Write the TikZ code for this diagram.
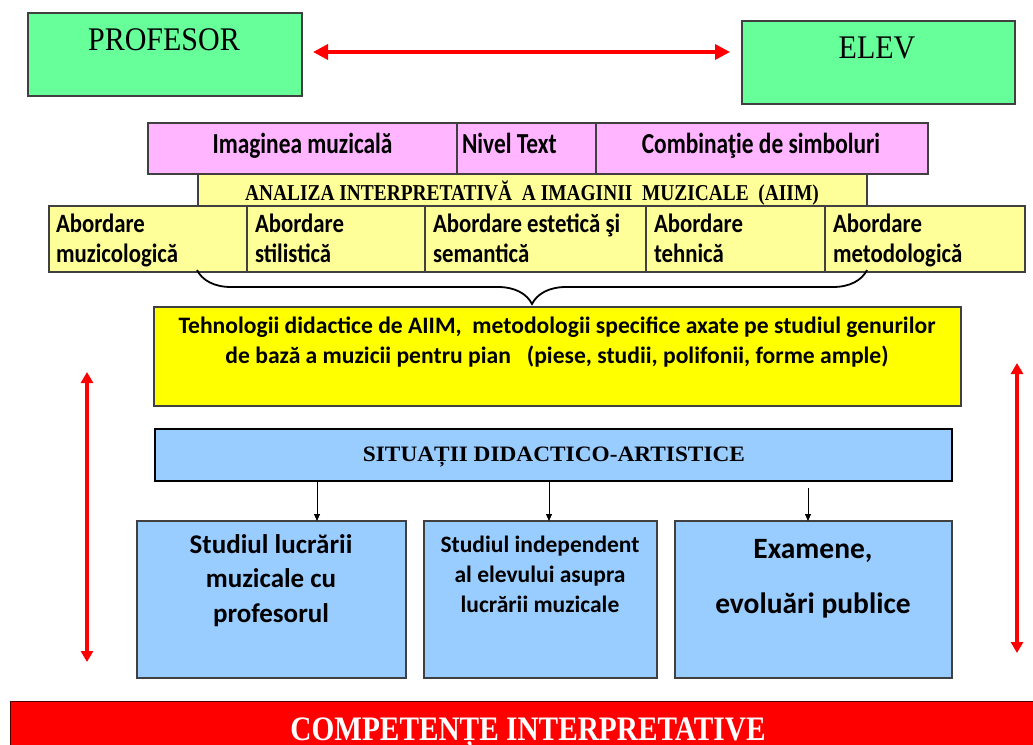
\documentclass[tikz,border=0pt]{standalone}
\usepackage{fontspec}
\usepackage{graphicx}
\setmainfont{Liberation Serif}
\newfontfamily\calib{Carlito}
\usetikzlibrary{arrows.meta,decorations.pathreplacing,calc}
\definecolor{grn}{HTML}{66FF99}
\definecolor{pnk}{HTML}{FFB5FF}
\definecolor{lyel}{HTML}{FFFF99}
\definecolor{yel}{HTML}{FFFF00}
\definecolor{blu}{HTML}{99CCFF}
\definecolor{bord}{HTML}{404040}
\newcommand\fsz[2]{\fontsize{#1}{#2}\selectfont}
\newcommand\vsc[2]{\scalebox{1}[#1]{#2}}
\newcommand\lns[2]{\begin{tabular}[t]{@{}#1@{}}#2\end{tabular}}
\begin{document}
\begin{tikzpicture}[x=1pt,y=-1pt,
  box/.style={draw=bord, line width=1.1pt, anchor=north west, inner sep=0pt, outer sep=0pt},
  txt/.style={inner sep=0pt, outer sep=0pt},
  redarr/.style={draw=red, line width=3.5pt, {Triangle[length=15pt,width=15pt]}-{Triangle[length=15pt,width=15pt]}},
  redvarr/.style={draw=red, line width=3.2pt, {Triangle[length=11pt,width=12pt]}-{Triangle[length=11pt,width=12pt]}},
  blkarr/.style={draw=black, line width=0.8pt, -{Triangle[length=7pt,width=6pt]}}
]
\useasboundingbox (0,0) rectangle (1033,744);
\begin{scope}
\clip (0,0) rectangle (1033,744);
% top boxes
\node[box,fill=grn,minimum width=274pt,minimum height=83pt] (prof) at (28,13) {};
\node[box,fill=grn,minimum width=273pt,minimum height=83pt] (elev) at (742,21) {};
\node[txt,anchor=base] (tprof) at (164,50) {\fsz{30}{36}\vsc{1.1}{PROFESOR}};
\node[txt,anchor=base] (telev) at (877,58) {\fsz{30}{36}\vsc{1.1}{ELEV}};
\coordinate (ry) at (0,52);
\draw[redarr] ([xshift=11pt]prof.east |- ry) -- ([xshift=-12pt]elev.west |- ry);
% pink row
\node[box,fill=pnk,minimum width=309pt,minimum height=51pt] (p1) at (148,123) {};
\node[box,fill=pnk,minimum width=139pt,minimum height=51pt] (p2) at (457,123) {};
\node[box,fill=pnk,minimum width=332pt,minimum height=51pt] (p3) at (596,123) {};
\node[txt,anchor=base] (tp1) at (302.5,153) {\fsz{23.4}{28}\calib\bfseries\vsc{1.24}{Imaginea muzicală}};
\node[txt,anchor=base west] (tp2) at (462,153) {\fsz{23.4}{28}\calib\bfseries\vsc{1.24}{Nivel Text}};
\node[txt,anchor=base] (tp3) at (761,153) {\fsz{23.4}{28}\calib\bfseries\vsc{1.24}{Combinaţie de simboluri}};
% AIIM
\node[box,fill=lyel,minimum width=669pt,minimum height=32pt] (aiim) at (198,174) {};
\node[txt,anchor=base] (taiim) at (532,200) {\fsz{19.4}{24}\bfseries\vsc{1.17}{ANALIZA INTERPRETATIVĂ\ \ A IMAGINII\ \ MUZICALE\ \ (AIIM)}};
% Abordare row
\node[box,fill=lyel,minimum width=198pt,minimum height=66pt] (a1) at (49,206) {};
\node[box,fill=lyel,minimum width=178pt,minimum height=66pt] (a2) at (247,206) {};
\node[box,fill=lyel,minimum width=221pt,minimum height=66pt] (a3) at (425,206) {};
\node[box,fill=lyel,minimum width=179pt,minimum height=66pt] (a4) at (646,206) {};
\node[box,fill=lyel,minimum width=200pt,minimum height=66pt] (a5) at (825,206) {};
\node[txt,anchor=base west] (ta1) at (56,232) {\vsc{1.16}{\fsz{22.8}{25.9}\calib\bfseries\lns{l}{Abordare\\muzicologică}}};
\node[txt,anchor=base west] (ta2) at (255,232) {\vsc{1.16}{\fsz{22.8}{25.9}\calib\bfseries\lns{l}{Abordare\\stilistică}}};
\node[txt,anchor=base west] (ta3) at (433,232) {\vsc{1.16}{\fsz{22.8}{25.9}\calib\bfseries\lns{l}{Abordare estetică şi\\semantică}}};
\node[txt,anchor=base west] (ta4) at (654,232) {\vsc{1.16}{\fsz{22.8}{25.9}\calib\bfseries\lns{l}{Abordare\\tehnică}}};
\node[txt,anchor=base west] (ta5) at (833,232) {\vsc{1.16}{\fsz{22.8}{25.9}\calib\bfseries\lns{l}{Abordare\\metodologică}}};
% brace
\coordinate (brl) at (197,270);
\coordinate (brr) at (867,270);
\draw[line width=1.8pt, decorate, decoration={brace, amplitude=34pt, mirror}] (brl) -- (brr);
% yellow box
\node[box,fill=yel,minimum width=807pt,minimum height=99pt] (tech) at (154,307) {};
\node[txt,anchor=base] (ttech) at (557,333) {\fsz{23.6}{30}\calib\bfseries\lns{c}{Tehnologii didactice de AIIM,\ \ metodologii specifice axate pe studiul genurilor\\ de bază a muzicii pentru pian\ \ \ (piese, studii, polifonii, forme ample)}};
% side arrows
\coordinate (lv1) at (87,372);
\coordinate (lv2) at (87,662);
\coordinate (rv1) at (1017,363);
\coordinate (rv2) at (1017,653);
\draw[redvarr] (lv1) -- (lv2);
\draw[redvarr] (rv1) -- (rv2);
% situatii
\node[box,fill=blu,draw=black,line width=2pt,minimum width=797pt,minimum height=52pt] (sit) at (155,429) {};
\node[txt,anchor=base] (tsit) at (554,461) {\fsz{22}{26}\bfseries\scalebox{1.06}[1]{SITUAȚII DIDACTICO-ARTISTICE}};
% bottom boxes
\node[box,fill=blu,minimum width=269pt,minimum height=157pt] (b1) at (137,521) {};
\node[box,fill=blu,minimum width=233pt,minimum height=157pt] (b2) at (424,521) {};
\node[box,fill=blu,minimum width=277pt,minimum height=157pt] (b3) at (675,521) {};
\node[txt,anchor=base] (tb1) at (271,553) {\fsz{27}{34.5}\calib\bfseries\lns{c}{Studiul lucrării\\muzicale cu\\profesorul}};
\node[txt,anchor=base] (tb2) at (540,552) {\fsz{23.5}{30}\calib\bfseries\lns{c}{Studiul independent\\al elevului asupra\\lucrării muzicale}};
\node[txt,anchor=base] (tb3) at (813,558) {\fsz{29.5}{55}\calib\bfseries\lns{c}{Examene,\\evoluări publice}};
\coordinate (ax1) at (317,0);
\coordinate (ax2) at (549,0);
\coordinate (ax3) at (808,488);
\draw[blkarr] (sit.south -| ax1) -- (b1.north -| ax1);
\draw[blkarr] (sit.south -| ax2) -- (b2.north -| ax2);
\draw[blkarr] (ax3) -- (b3.north -| ax3);
% bottom bar
\node[box,fill=red,draw=black!70!red,line width=1pt,minimum width=1040pt,minimum height=60pt] (comp) at (10,701) {};
\node[txt,anchor=base,text=white] (tcomp) at (528,740) {\fsz{29.3}{34}\bfseries\vsc{1.17}{COMPETENȚE INTERPRETATIVE}};
\end{scope}
\end{tikzpicture}
\end{document}
